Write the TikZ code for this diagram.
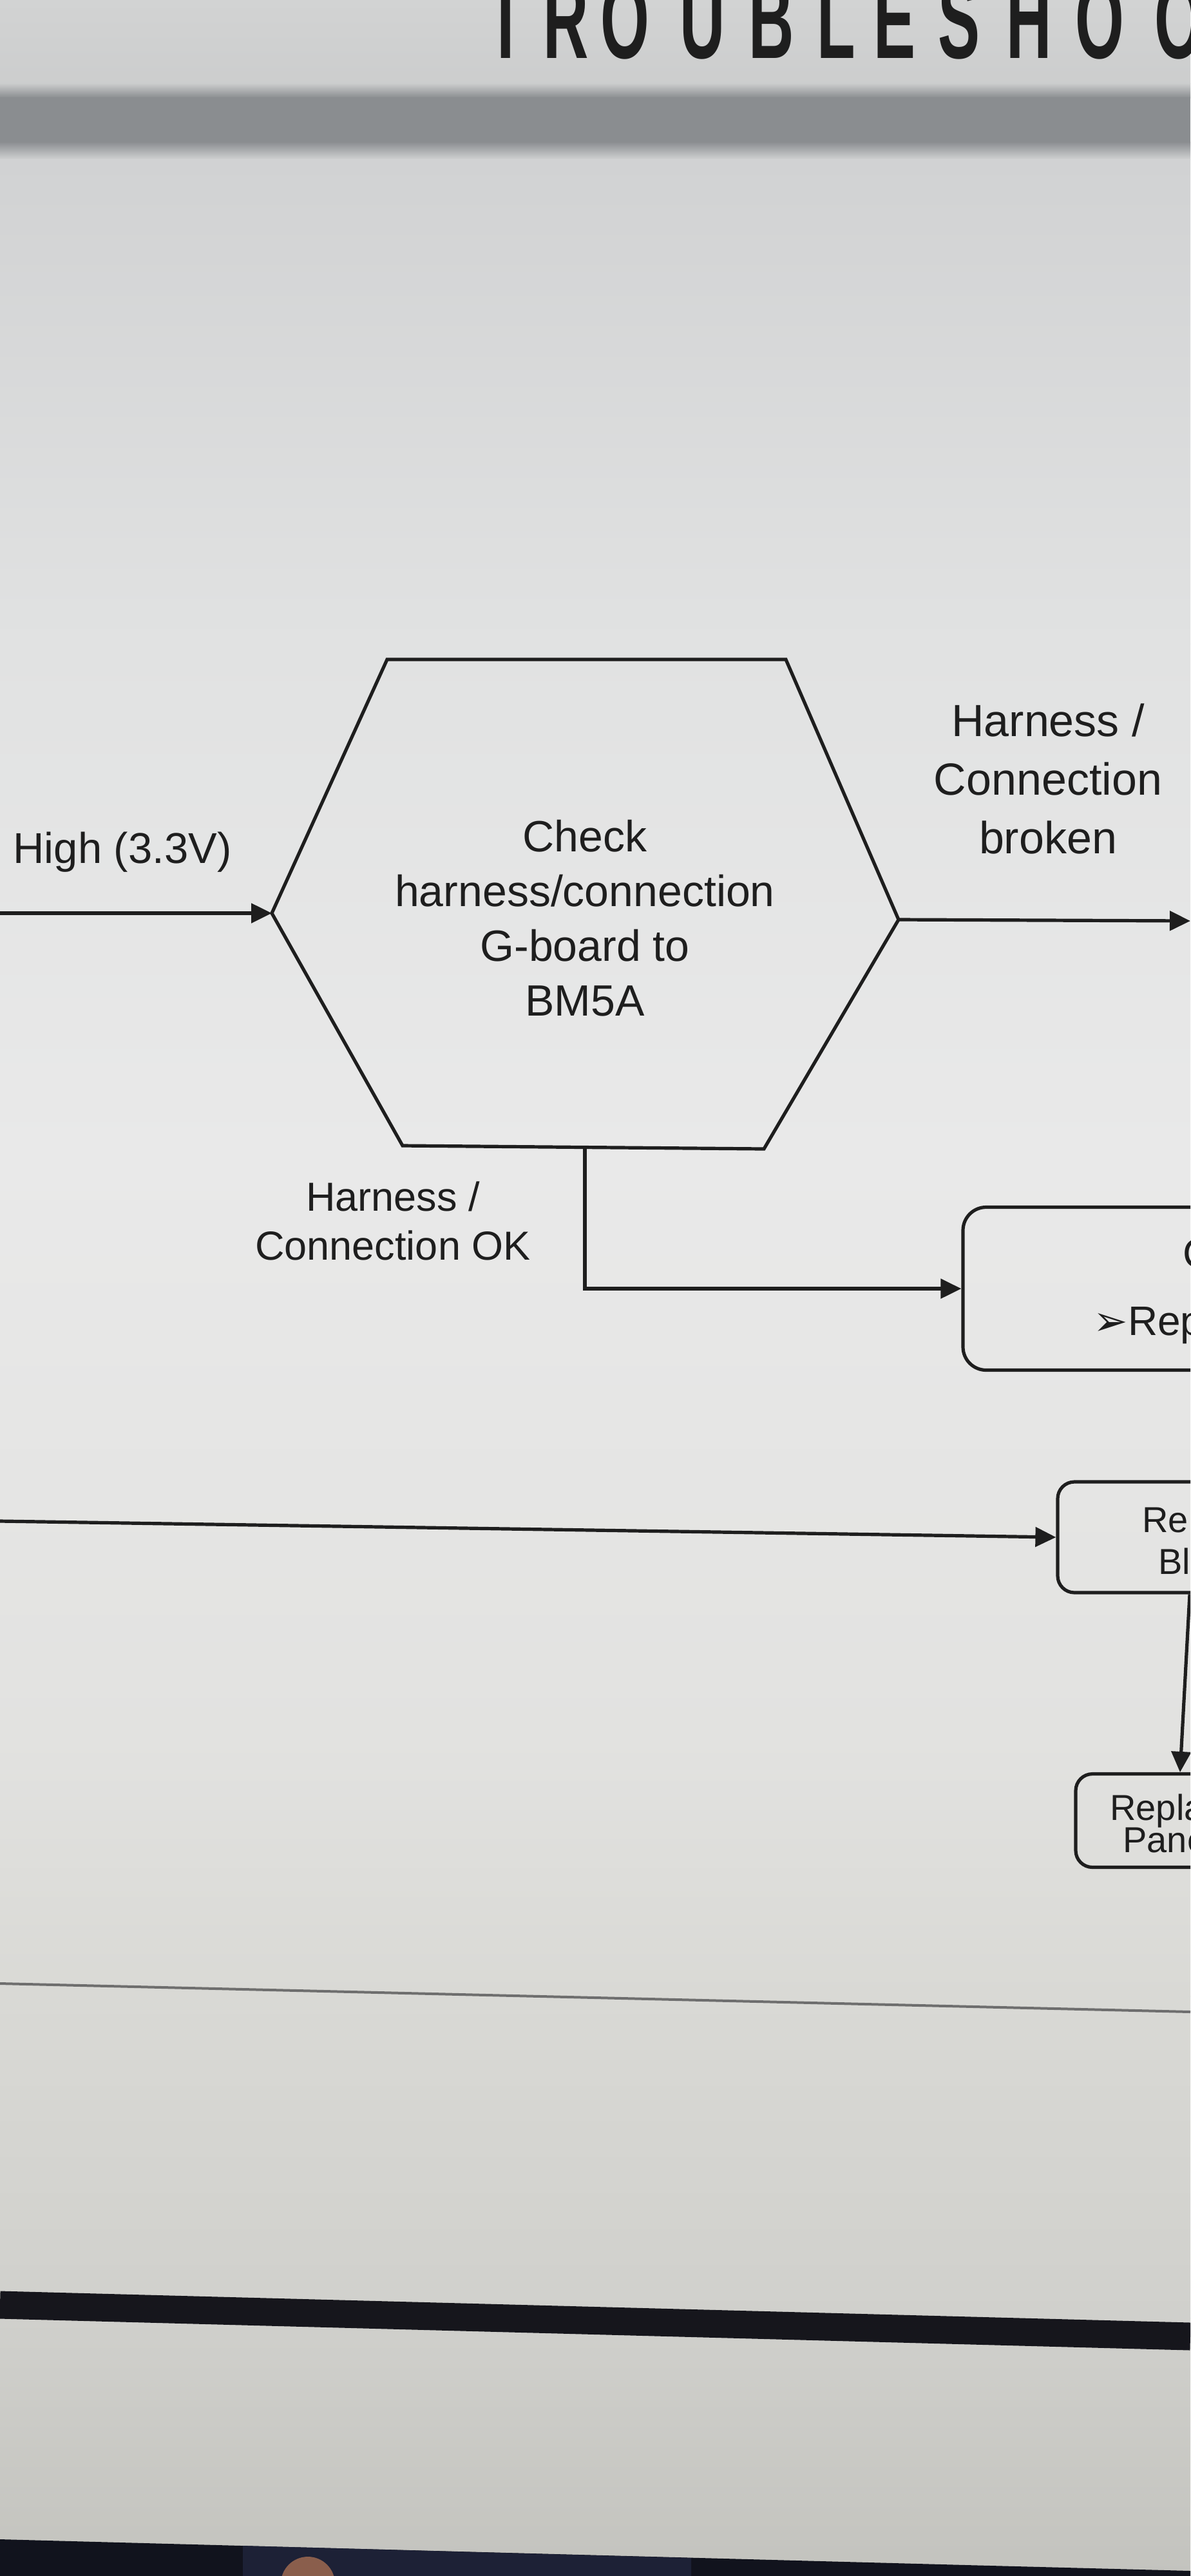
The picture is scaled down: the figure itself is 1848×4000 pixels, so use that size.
\documentclass[tikz,border=0pt]{standalone}
\usepackage{fontspec}
\setmainfont{Liberation Sans}
\newfontfamily\djv{DejaVu Sans}
\usetikzlibrary{arrows.meta}
\definecolor{inkc}{HTML}{1E1E1E}
\definecolor{bgA}{HTML}{D2D3D3}
\definecolor{bgBand}{HTML}{8A8D90}
\definecolor{bgB}{HTML}{D1D2D3}
\definecolor{bgC}{HTML}{E1E2E2}
\definecolor{bgD}{HTML}{E9E9E9}
\definecolor{bgE}{HTML}{E2E2E0}
\definecolor{bgF}{HTML}{D9D9D5}
\definecolor{bgG}{HTML}{D0D0CC}
\definecolor{bgH}{HTML}{C3C3BE}
\definecolor{navyA}{HTML}{11131D}
\definecolor{navyB}{HTML}{1D2136}
\definecolor{thinl}{HTML}{6E6E6E}
\definecolor{thickl}{HTML}{16161C}
\definecolor{blob}{HTML}{8A5E4C}
\begin{document}
\begin{tikzpicture}[x=0.5pt,y=-0.5pt,
  conn/.style={line width=2.6pt, draw=inkc, -{Triangle[length=16pt,width=15pt]}},
  hexline/.style={line width=2.6pt, draw=inkc, line join=miter},
  procbox/.style={draw=inkc, line width=2.6pt, rounded corners=#1, inner sep=0pt},
  procbox/.default=13pt,
  lbl/.style={text=inkc, inner sep=0pt, align=center},
  titlech/.style={text=inkc, inner sep=0pt, anchor=base west,
    font=\fontsize{87pt}{90pt}\selectfont\bfseries}
]
\useasboundingbox (0,0) rectangle (1848,4000);
\clip (0,0) rectangle (1848,4000);
% background (photographed screen)
\shade[top color=bgA, bottom color=bgA!92!bgBand] (0,0) rectangle (1848,130);
\shade[top color=bgA!92!bgBand, bottom color=bgBand] (0,129) rectangle (1848,152);
\fill[bgBand] (0,151) rectangle (1848,221);
\shade[top color=bgBand, bottom color=bgB] (0,220) rectangle (1848,248);
\shade[top color=bgB, bottom color=bgC] (0,247) rectangle (1848,1000);
\shade[top color=bgC, bottom color=bgD] (0,999) rectangle (1848,1800);
\shade[top color=bgD, bottom color=bgE] (0,1799) rectangle (1848,2700);
\shade[top color=bgE, bottom color=bgF] (0,2699) rectangle (1848,3100);
\shade[top color=bgF, bottom color=bgG] (0,3099) rectangle (1848,3600);
\shade[top color=bgG, bottom color=bgH] (0,3599) rectangle (1848,4000);
% screen rules
\draw[thinl, line width=2pt] (0,3080) -- (1848,3124);
\draw[thickl, line width=21.5pt] (0,3579) -- (1848,3628);
% taskbar at the bottom
\fill[navyA] (0,3943) -- (1500,3983) -- (1848,3992) -- (1848,4000) -- (0,4000) -- cycle;
\fill[navyB] (377,3953) -- (1073,3972) -- (1073,4000) -- (377,4000) -- cycle;
\fill[blob] (478,4012) circle[radius=21pt];
% title
\foreach \ch/\xx [count=\i] in {T/755,R/843,O/932,U/1055,B/1162,L/1268,E/1356,S/1456,H/1562,O/1669,O/1792}
  \node[titlech] (title\i) at (\xx,90) {\scalebox{0.56}[1]{\ch}};
% hexagon decision
\coordinate (h1) at (601,1024);
\coordinate (h2) at (1220,1024);
\coordinate (h3) at (1395,1428);
\coordinate (h4) at (1186,1784);
\coordinate (h5) at (625,1779);
\coordinate (h6) at (422,1418);
\draw[hexline] (h1) -- (h2) -- (h3) -- (h4) -- (h5) -- (h6) -- cycle;
\node[lbl, font=\fontsize{34pt}{42.5pt}\selectfont] (hex) at (908,1426)
  {Check\\harness/connection\\G-board to\\BM5A};
\coordinate (hb) at (908,1782);
% boxes on the right (cut off by the photo)
\node[procbox=18pt, minimum width=350pt, minimum height=126.5pt] (box1) at (1845,2001) {};
\node[procbox=13pt, minimum width=205pt, minimum height=86pt] (box2) at (1847,2387) {};
\node[procbox=13pt, minimum width=162pt, minimum height=72.5pt] (box3) at (1832,2827) {};
\node[lbl, anchor=base west, font=\fontsize{32pt}{38pt}\selectfont] (b1a) at (1836,1968) {C};
\node[lbl, anchor=base west, font=\fontsize{32pt}{38pt}\selectfont] (b1b) at (1697,2073) {{\djv ➢}Rep};
\node[lbl, anchor=base west, font=\fontsize{28pt}{34pt}\selectfont] (b2a) at (1773,2379) {Re};
\node[lbl, anchor=base west, font=\fontsize{28pt}{34pt}\selectfont] (b2b) at (1798,2444) {Bl};
\node[lbl, anchor=base west, font=\fontsize{28pt}{34pt}\selectfont] (b3a) at (1723,2826) {Repla};
\node[lbl, anchor=base west, font=\fontsize{28pt}{34pt}\selectfont] (b3b) at (1743,2876) {Pane};
% labels
\node[lbl, anchor=base, font=\fontsize{33.5pt}{40pt}\selectfont] (lhigh) at (190,1340) {High (3.3V)};
\node[lbl, font=\fontsize{35pt}{45.5pt}\selectfont] (lbroken) at (1627,1209) {Harness /\\Connection\\broken};
\node[lbl, font=\fontsize{31.5pt}{38pt}\selectfont] (lok) at (610,1896) {Harness /\\Connection OK};
% connectors
\coordinate (inL) at (0,1418);
\coordinate (outR) at (1848,1430);
\coordinate (l2) at (0,2362);
\draw[conn] (inL) -- (h6);
\draw[conn] (h3) -- (outR);
\draw[conn] (hb) |- (box1.west);
\draw[conn] (l2) -- (box2.west);
\draw[conn] (box2.south) -- (box3.north);
\end{tikzpicture}
\end{document}
